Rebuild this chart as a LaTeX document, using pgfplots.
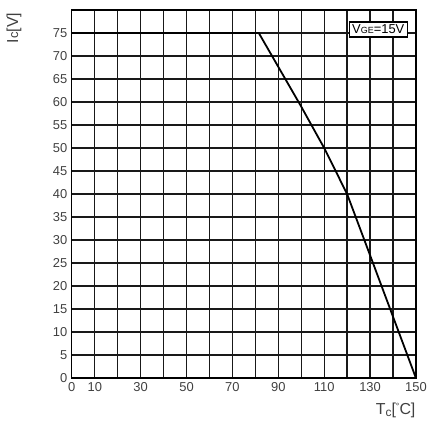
\documentclass[border=0pt]{standalone}
\usepackage{pgfplots}
\pgfplotsset{compat=1.18}
\usetikzlibrary{calc}
\usepackage{fontspec}
\setmainfont{Liberation Sans}

\begin{document}
\begin{tikzpicture}[x=1bp,y=1bp]
\begin{axis}[
  scale only axis,
  width=345bp, height=369bp,
  xmin=0, xmax=150, ymin=0, ymax=80,
  xtick={0,10,...,150},
  xticklabels={0,10,,30,,50,,70,,90,,110,,130,,150},
  ytick={0,5,...,75},
  tick style={draw=none},
  grid=major,
  major grid style={black!90, line width=1.25pt},
  axis line style={black, line width=1.3pt},
  tick label style={font=\fontsize{13}{15}\selectfont, text=black!75},
  /pgf/number format/assume math mode=true,
  xticklabel style={yshift=-1pt},
  yticklabel style={xshift=-1pt},
  clip=false,
]
\addplot[black, line width=1.8pt] coordinates {
  (0,75) (81.5,75) (100,59) (110,50) (120,40) (130,26.7) (150,0)
};
\node[draw=black, line width=1.2pt, fill=white, inner sep=3pt, anchor=north east,
  font=\fontsize{13}{15}\selectfont]
  at (axis cs:146.5,77.5) {V{\fontsize{9}{10}\selectfont GE}=15V};
\node[xshift=-58bp, yshift=-18bp, rotate=90, anchor=center,
  font=\fontsize{16}{18}\selectfont, text=black!75]
  at (rel axis cs:0,1) {I{\fontsize{13}{15}\selectfont c}[V]};
\node[anchor=north east, font=\fontsize{16}{18}\selectfont, text=black!75,
  yshift=-22bp, xshift=3bp]
  at (rel axis cs:1,0) {T\raisebox{-0.15ex}{\fontsize{12}{14}\selectfont c}[\raisebox{0.6ex}{\fontsize{9}{10}\selectfont\textdegree}C]};
\end{axis}
\path ($(current axis.south west)+(-72bp,-50bp)$) rectangle ($(current axis.north east)+(13bp,10bp)$);
\end{tikzpicture}
\end{document}
